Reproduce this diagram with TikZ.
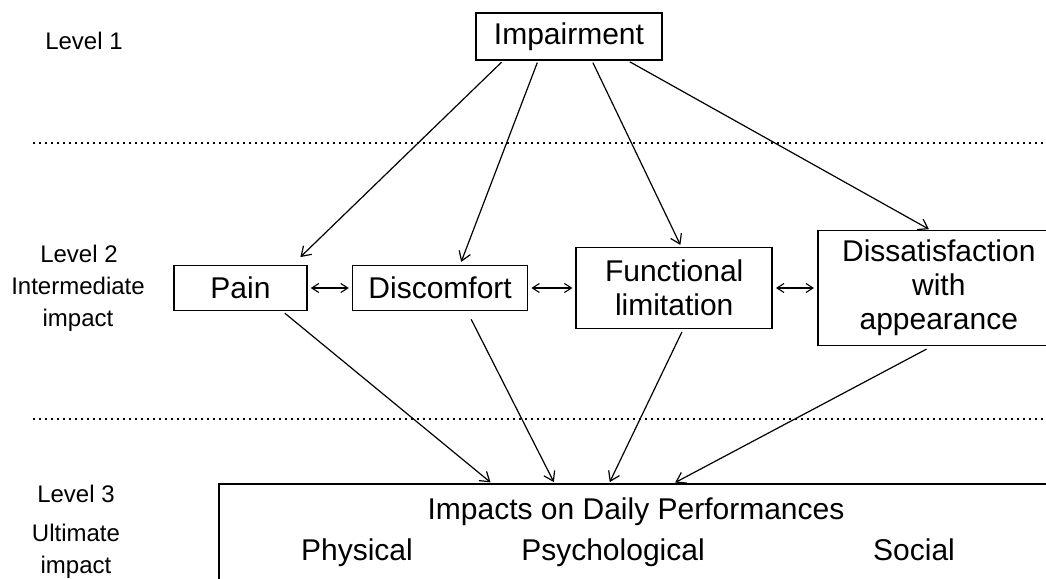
\documentclass[tikz,border=0pt]{standalone}
\usepackage{fontspec}
\setmainfont{Liberation Sans}
\usetikzlibrary{positioning,arrows.meta}
\tikzset{
  box/.style={draw,line width=1.6pt,inner sep=0pt,align=center,font=\fontsize{30}{34}\selectfont},
  txt/.style={inner sep=0pt,anchor=base,font=\fontsize{30}{34}\selectfont},
  lvl/.style={inner sep=0pt,align=center,font=\fontsize{24}{32}\selectfont},
  sep/.style={line width=1.5pt,dash pattern=on 2pt off 4pt},
  imp/.style={-{Straight Barb[length=9pt,width=12pt]},line width=1.2pt},
  both/.style={{Straight Barb[length=7pt,width=9pt]}-{Straight Barb[length=7pt,width=9pt]},line width=1.1pt,shorten <=3pt,shorten >=3pt},
}

\begin{document}
\begin{tikzpicture}[x=1pt,y=-1pt,node distance=44pt]
  \clip (0,0) rectangle (1046,578);
  % level labels
  \node[lvl] (l1) at (84,41) {Level 1};
  \node[lvl] (l2) at (79,254) {Level 2};
  \node[lvl] (l2b) at (78,304) {Intermediate\\impact};
  \node[lvl] (l3) at (76,494) {Level 3};
  \node[lvl] (l3b) at (76,551) {Ultimate\\impact};
  \draw[sep] (33,143) -- (1046,143);
  \draw[sep] (33,419) -- (1046,419);
  % level 1
  \node[box,minimum width=186pt,minimum height=47pt] (imp) at (569,36.5) {Impairment};
  % level 2
  \node[box,minimum width=133pt,minimum height=45pt] (pain) at (240.5,288) {Pain};
  \node[box,minimum width=175pt,minimum height=45pt,right=of pain] (disc) {Discomfort};
  \node[box,minimum width=196pt,minimum height=81pt,right=47pt of disc] (func) {Functional\\limitation};
  \node[box,minimum width=242pt,minimum height=115pt,right=of func] (diss) {Dissatisfaction\\with\\appearance};
  \foreach \a/\b in {pain/disc,disc/func,func/diss} \draw[both] (\a)--(\b);
  % level 3
  \node[box,minimum width=837pt,minimum height=200pt,anchor=north west] (idp) at (218,483) {};
  \node[txt] (idptitle) at (636,519) {Impacts on Daily Performances};
  \node[txt] (phys) at (357,560) {Physical};
  \node[txt] (psy) at (613,560) {Psychological};
  \node[txt] (soc) at (914,560) {Social};
  % impairment to level 2
  \draw[imp,shorten <=2pt,shorten >=11pt] ([xshift=-66pt]imp.south) -- ([xshift=52pt]pain.north);
  \draw[imp,shorten <=2pt,shorten >=3pt] ([xshift=-31pt]imp.south) -- ([xshift=20pt]disc.north);
  \draw[imp,shorten <=2pt,shorten >=2pt] ([xshift=23pt]imp.south) -- ([xshift=7pt]func.north);
  \draw[imp,shorten <=2pt,shorten >=1pt] ([xshift=59pt]imp.south) -- ([xshift=-9pt]diss.north);
  % level 2 to level 3
  \draw[imp,shorten <=3pt,shorten >=1pt] ([xshift=42pt]pain.south) -- ([xshift=-146pt]idp.north);
  \draw[imp,shorten <=9pt,shorten >=1pt] ([xshift=27pt]disc.south) -- ([xshift=-83pt]idp.north);
  \draw[imp,shorten <=3pt,shorten >=1pt] ([xshift=9pt]func.south) -- ([xshift=-28pt]idp.north);
  \draw[imp,shorten <=6pt,shorten >=1pt] ([xshift=-7pt]diss.south) -- ([xshift=37pt]idp.north);
\end{tikzpicture}
\end{document}
